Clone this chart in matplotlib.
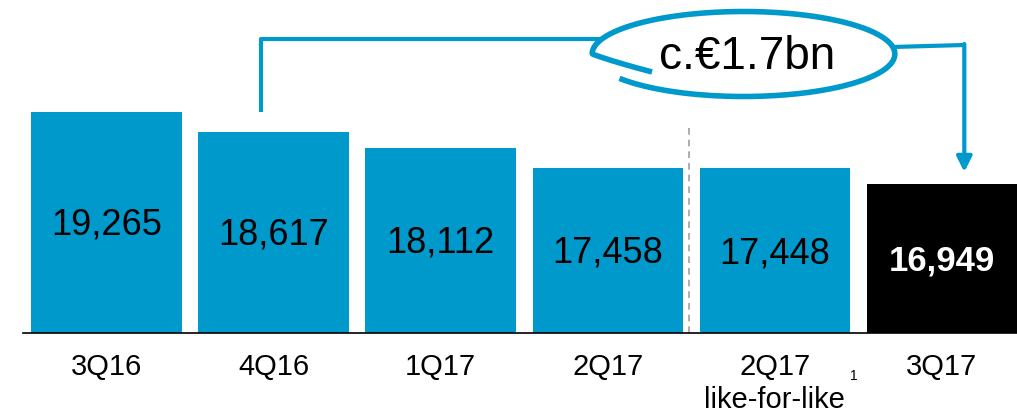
import numpy as np
import matplotlib.pyplot as plt
import matplotlib.transforms as mtransforms

plt.rcParams['font.family'] = ['Liberation Sans', 'DejaVu Sans']

quarters = ['3Q16', '4Q16', '1Q17', '2Q17', '2Q17\nlike-for-like', '3Q17']
values = [19265, 18617, 18112, 17458, 17448, 16949]
labels = ['19,265', '18,617', '18,112', '17,458', '17,448', '16,949']
callout = 'c.€1.7bn'

blue = '#0099CC'
colors = [blue] * 5 + ['#000000']

fig = plt.figure(figsize=(10.17, 4.17), dpi=100)
ax = fig.add_axes([23 / 1017, 84 / 417, 994 / 1017, 333 / 417])

ymin, ymax = 12155, 22868
ax.set_xlim(-0.5, 5.45)
ax.set_ylim(ymin, ymax)


def px(xp):
    # horizontal pixel -> data x
    return (xp - 106.5) / 167.2


def py(yp):
    # vertical pixel (from top) -> data y
    return ymin + (333 - yp) * (ymax - ymin) / 333


x = list(range(len(values)))
ax.bar(x, [v - ymin for v in values], bottom=ymin, width=0.9, color=colors)

# value labels inside bars
for i, v in enumerate(values):
    ymid = (v + ymin) / 2 - 90
    if i == len(values) - 1:
        ax.text(i, ymid, labels[i], ha='center', va='center', fontsize=25,
                color='white', fontweight='bold')
    else:
        ax.text(i, ymid, labels[i], ha='center', va='center', fontsize=26,
                color='black')

# category labels
trans = mtransforms.blended_transform_factory(ax.transData, ax.transAxes)
for i, q in enumerate(quarters):
    ax.text(i, -0.06, q, transform=trans, ha='center', va='top', fontsize=21,
            linespacing=1.25)
ax.text(4.45, -0.128, '1', transform=trans, ha='left', va='center', fontsize=10)

# baseline only
for s in ['top', 'right', 'left']:
    ax.spines[s].set_visible(False)
ax.spines['bottom'].set_linewidth(1.2)
ax.set_xticks([])
ax.set_yticks([])

# dashed separator
ax.plot([px(689)] * 2, [ymin, py(123)], ls=(0, (4, 3)), color='#A0A0A0', lw=1.2)

# bracket from 4Q16 to 3Q17
ax.plot([px(261), px(261), px(600)], [values[1] + 640, py(39), py(39)],
        color=blue, lw=3, solid_capstyle='butt')
ax.plot([px(893), px(965)], [py(47), py(45)], color=blue, lw=3,
        solid_capstyle='butt')
ax.annotate('', xy=(px(965), py(172)), xytext=(px(965), py(44)),
            arrowprops=dict(arrowstyle='-|>,head_length=0.9,head_width=0.45',
                            color=blue, lw=3, shrinkA=0, shrinkB=0))

# hand-drawn loop around the callout
t = np.deg2rad(np.linspace(215, 565, 300))
a = np.where(t > np.deg2rad(540),
             151.5 - (151.5 - 101) * (t - np.deg2rad(540)) / np.deg2rad(25),
             151.5)
ex = 744 + a * np.cos(t)
ey = 54 - 42.5 * np.sin(t)
ax.plot(px(ex), py(ey), color=blue, lw=4, solid_capstyle='butt')
ax.text(px(748), py(57), callout, ha='center', va='center', fontsize=33)

fig.savefig('out.png', dpi=100)
